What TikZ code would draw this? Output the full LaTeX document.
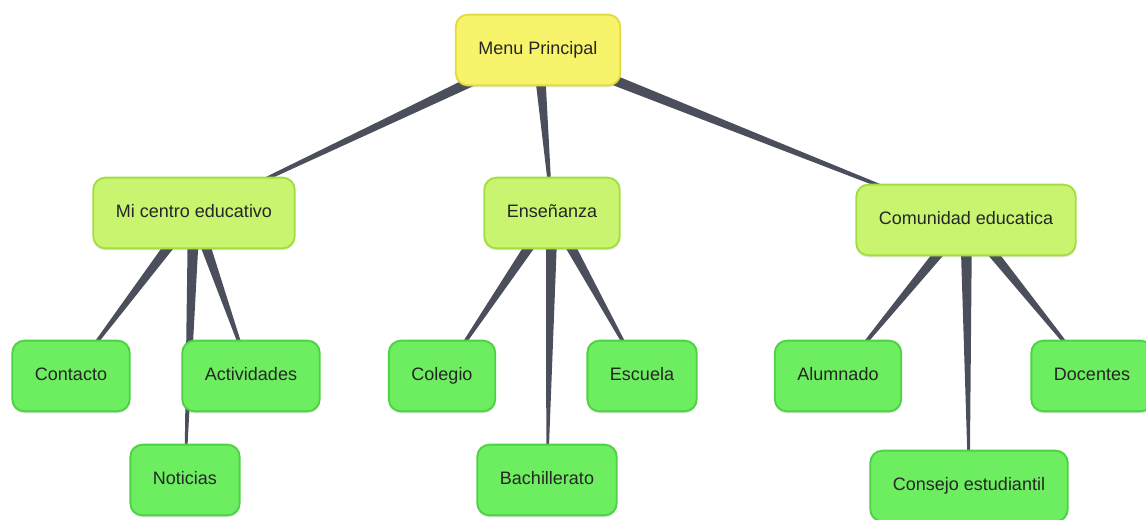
\documentclass[tikz,border=0pt]{standalone}
\usepackage{fontspec}
\setmainfont{Liberation Sans}
\usetikzlibrary{calc,backgrounds,shadows}
\definecolor{menufill}{HTML}{F7F46B}
\definecolor{menuline}{HTML}{E2DC3A}
\definecolor{areafill}{HTML}{C8F46F}
\definecolor{arealine}{HTML}{A2DE3E}
\definecolor{itemfill}{HTML}{6DED60}
\definecolor{itemline}{HTML}{4CD243}
\definecolor{linkcol}{HTML}{4B4F5C}
\tikzset{
  box/.style={rounded corners=9pt, line width=1.4pt, inner xsep=17pt,
    minimum height=53pt, text height=0.82em, text depth=0.1em,
    font=\fontsize{13.5}{16}\selectfont, text=black!85,
    drop shadow={opacity=0.18, shadow xshift=0pt, shadow yshift=-1.5pt}},
  menubox/.style={box, fill=menufill, draw=menuline},
  areabox/.style={box, fill=areafill, draw=arealine},
  itembox/.style={box, fill=itemfill, draw=itemline},
  link/.style={fill=linkcol}
}
\newcommand{\taper}[2]{\fill[link] ($(#1)!4.5pt!90:(#2)$) -- ($(#1)!4.5pt!-90:(#2)$)
  -- ($(#2)!0.5pt!90:(#1)$) -- ($(#2)!0.5pt!-90:(#1)$) -- cycle;}
\begin{document}
\begin{tikzpicture}[x=0.75pt,y=-0.75pt]
  \useasboundingbox (0,0) rectangle (1146,520);
  \node[menubox] (menu) at (538,50) {Menu Principal};
  \node[areabox] (centro) at (194,213) {Mi centro educativo};
  \node[areabox] (ense) at (552,213) {Enseñanza};
  \node[areabox] (comu) at (966,220) {Comunidad educatica};
  \node[itembox] (contacto) at (71,376) {Contacto};
  \node[itembox] (activ) at (251,376) {Actividades};
  \node[itembox] (noticias) at (185,480) {Noticias};
  \node[itembox] (colegio) at (442,376) {Colegio};
  \node[itembox] (escuela) at (642,376) {Escuela};
  \node[itembox] (bach) at (547,480) {Bachillerato};
  \node[itembox] (alumnado) at (838,376) {Alumnado};
  \node[itembox] (docentes) at (1092,376) {Docentes};
  \node[itembox] (consejo) at (969,486) {Consejo estudiantil};
  \begin{scope}[on background layer]
    \taper{menu}{centro}
    \taper{menu}{ense}
    \taper{menu}{comu}
    \taper{centro}{contacto}
    \taper{centro}{noticias}
    \taper{centro}{activ}
    \taper{ense}{colegio}
    \taper{ense}{bach}
    \taper{ense}{escuela}
    \taper{comu}{alumnado}
    \taper{comu}{consejo}
    \taper{comu}{docentes}
  \end{scope}
\end{tikzpicture}
\end{document}
